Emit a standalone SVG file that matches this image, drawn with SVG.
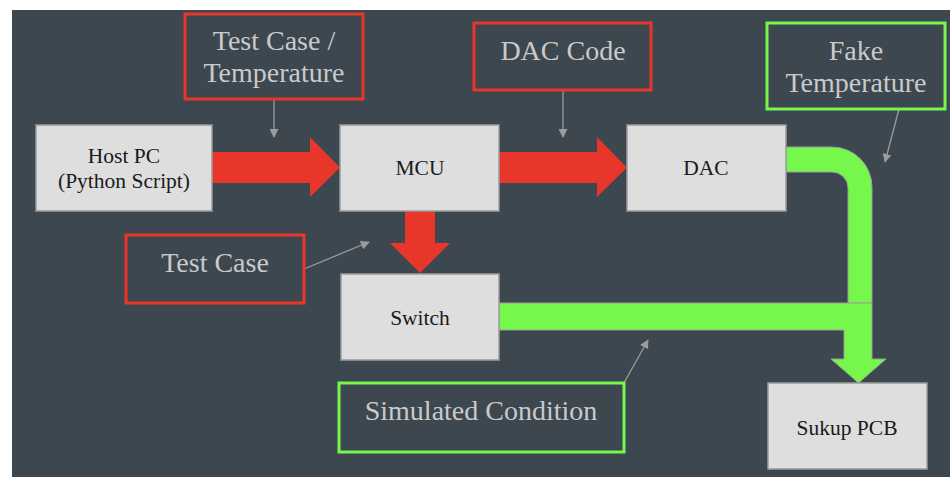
<svg xmlns="http://www.w3.org/2000/svg" width="950" height="477" viewBox="0 0 950 477">
<defs>
<marker id="ah" viewBox="0 0 10 10" refX="9" refY="5" markerWidth="9" markerHeight="9" markerUnits="userSpaceOnUse" orient="auto">
<path d="M0,0 L10,5 L0,10 Z" fill="#9c9c9c"/>
</marker>
<style>
.node rect{fill:#dedede;stroke:#9c9c9c;stroke-width:1.5}
.node text{font-family:"Liberation Serif",serif;font-size:21.5px;fill:#1a1a1a;text-anchor:middle}
.lbl rect{fill:none;stroke-width:3}
.red rect{stroke:#e8372a}
.grn rect{stroke:#76f74c}
.lbl text{font-family:"Liberation Serif",serif;font-size:28px;fill:#cacaca;text-anchor:middle}
.big-red{fill:#e8372a;stroke:none}
.big-grn{fill:#76f74c;stroke:#9c9c9c;stroke-width:1}
.ann{stroke:#9c9c9c;stroke-width:1.3;fill:none;marker-end:url(#ah)}
</style>
</defs>
<rect x="0" y="0" width="950" height="477" fill="#ffffff"/>
<rect x="12" y="10" width="938" height="467" fill="#3c474f"/>

<g id="connectors">
<path class="big-red" d="M212,152 H310 V137 L340,167.5 L310,197 V183 H212 Z"/>
<path class="big-red" d="M499,152 H597 V137 L627,167.5 L597,197 V183 H499 Z"/>
<path class="big-red" d="M405,211 V243 H390 L420,273 L450,243 H435 V211 Z"/>
<path class="big-grn" d="M786,147 H832 A40,40 0 0 1 872,187 V303 H848 V188 A16,16 0 0 0 832,172 H786 Z"/>
<path class="big-grn" d="M499,303 H872 V359 H886 L858.5,383 L831,359 H844 V330 H499 Z"/>
<line class="ann" x1="274" y1="99" x2="274" y2="137"/>
<line class="ann" x1="563" y1="90" x2="563" y2="137"/>
<line class="ann" x1="899" y1="109" x2="885" y2="162"/>
<line class="ann" x1="304" y1="269" x2="369" y2="242"/>
<line class="ann" x1="624" y1="383" x2="648" y2="340"/>
</g>

<g id="host-pc" class="node">
<rect x="36" y="125" width="176" height="86"/>
<text x="124" y="163">Host PC</text>
<text x="124" y="188">(Python Script)</text>
</g>
<g id="mcu" class="node">
<rect x="340" y="125" width="159" height="86"/>
<text x="420" y="175">MCU</text>
</g>
<g id="dac" class="node">
<rect x="627" y="125" width="159" height="86"/>
<text x="706" y="175">DAC</text>
</g>
<g id="switch" class="node">
<rect x="341" y="274" width="158" height="86"/>
<text x="420" y="325">Switch</text>
</g>
<g id="sukup-pcb" class="node">
<rect x="768" y="383" width="159" height="86"/>
<text x="847" y="435">Sukup PCB</text>
</g>

<g id="label-test-case-temp" class="lbl red">
<rect x="185" y="14" width="178" height="85"/>
<text x="274" y="50">Test Case /</text>
<text x="274" y="82">Temperature</text>
</g>
<g id="label-dac-code" class="lbl red">
<rect x="474" y="23" width="177" height="67"/>
<text x="563" y="60">DAC Code</text>
</g>
<g id="label-fake-temp" class="lbl grn">
<rect x="767" y="23" width="178" height="86"/>
<text x="856" y="60">Fake</text>
<text x="856" y="92">Temperature</text>
</g>
<g id="label-test-case" class="lbl red">
<rect x="126" y="235" width="178" height="68"/>
<text x="215" y="272">Test Case</text>
</g>
<g id="label-simulated" class="lbl grn">
<rect x="339" y="383" width="285" height="69"/>
<text x="481" y="420">Simulated Condition</text>
</g>
</svg>
